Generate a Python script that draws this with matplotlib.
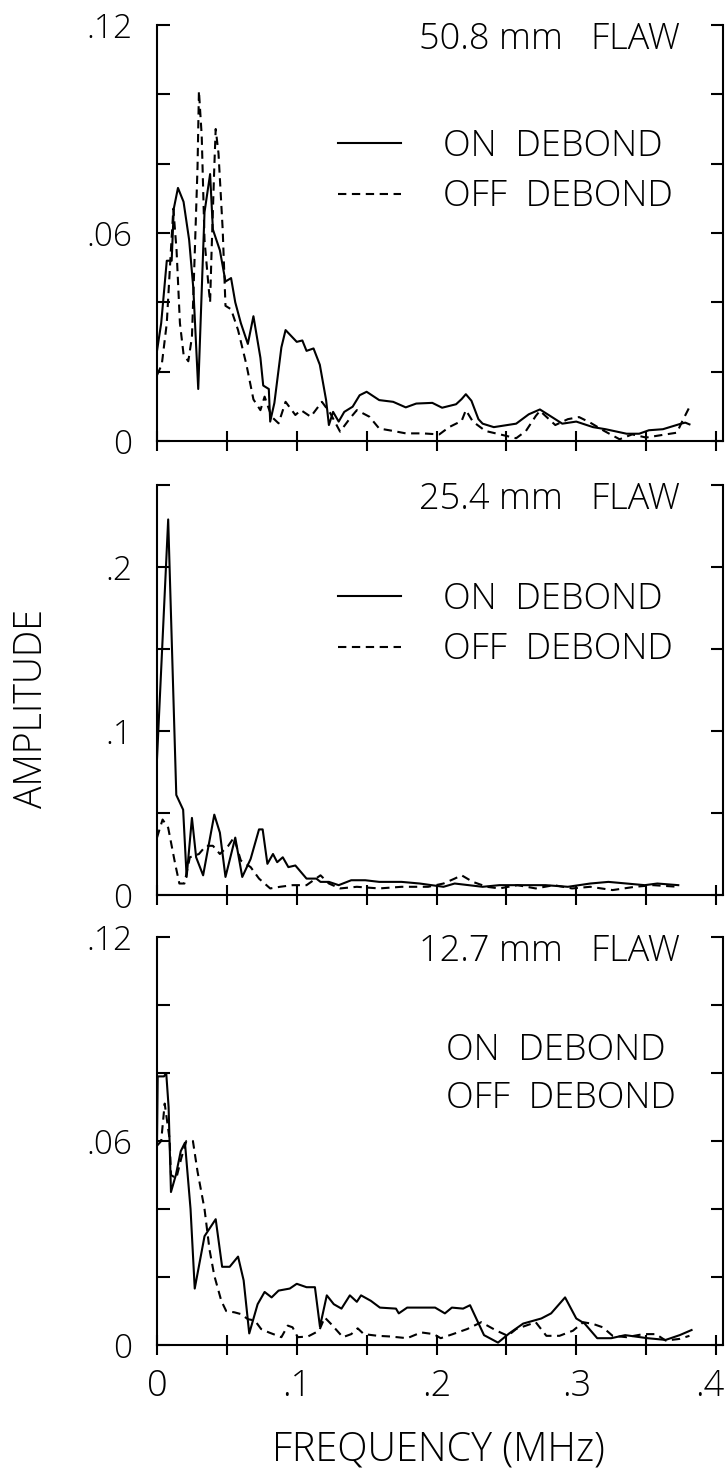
import matplotlib
matplotlib.use("Agg")
import matplotlib.pyplot as plt
import matplotlib.transforms as mtransforms
from matplotlib.ticker import MultipleLocator, FixedLocator
from matplotlib.lines import Line2D

plt.rcParams['font.family'] = ['Open Sans', 'DejaVu Sans']
plt.rcParams['lines.scale_dashes'] = False

# ---- data (frequency in MHz, amplitude) ----
# 50.8 mm flaw
f_on_50 = [0, 0.003, 0.007, 0.0105, 0.012, 0.015, 0.019, 0.023, 0.026, 0.0295,
           0.034, 0.038, 0.040, 0.045, 0.049, 0.053, 0.056, 0.060, 0.065, 0.069,
           0.074, 0.076, 0.080, 0.081, 0.084, 0.089, 0.092, 0.100, 0.104, 0.107,
           0.112, 0.1165, 0.121, 0.123, 0.126, 0.128, 0.130, 0.134, 0.140, 0.145,
           0.150, 0.159, 0.169, 0.178, 0.1855, 0.197, 0.204, 0.214, 0.218, 0.221,
           0.225, 0.230, 0.233, 0.241, 0.257, 0.266, 0.274, 0.283, 0.290, 0.300,
           0.312, 0.321, 0.336, 0.345, 0.352, 0.362, 0.375, 0.378, 0.381]
a_on_50 = [0.026, 0.034, 0.052, 0.052, 0.067, 0.073, 0.069, 0.058, 0.044, 0.015,
           0.066, 0.077, 0.061, 0.055, 0.046, 0.047, 0.040, 0.034, 0.028, 0.036,
           0.024, 0.016, 0.015, 0.0056, 0.011, 0.027, 0.032, 0.0286, 0.029, 0.026,
           0.0267, 0.022, 0.0118, 0.0046, 0.0084, 0.007, 0.0056, 0.0084, 0.0099, 0.0132,
           0.0142, 0.0118, 0.0113, 0.0097, 0.0108, 0.0110, 0.0096, 0.0106, 0.0121, 0.0135,
           0.0116, 0.0063, 0.0050, 0.0040, 0.0050, 0.0077, 0.0091, 0.0068, 0.0050, 0.0056,
           0.0040, 0.0034, 0.0021, 0.0021, 0.0031, 0.0034, 0.0050, 0.0053, 0.0048]
f_off_50 = [0, 0.0034, 0.007, 0.0098, 0.0117, 0.014, 0.0164, 0.019, 0.0224, 0.025,
            0.027, 0.029, 0.030, 0.032, 0.034, 0.037, 0.038, 0.039, 0.041, 0.042,
            0.044, 0.047, 0.049, 0.053, 0.058, 0.064, 0.069, 0.074, 0.077, 0.082,
            0.087, 0.092, 0.099, 0.103, 0.110, 0.118, 0.124, 0.131, 0.138, 0.143,
            0.152, 0.159, 0.169, 0.178, 0.190, 0.202, 0.209, 0.218, 0.221, 0.226,
            0.235, 0.257, 0.264, 0.271, 0.274, 0.285, 0.294, 0.302, 0.310, 0.320,
            0.331, 0.340, 0.350, 0.364, 0.372, 0.376, 0.381]
a_off_50 = [0.019, 0.022, 0.034, 0.054, 0.067, 0.055, 0.034, 0.025, 0.023, 0.030,
            0.054, 0.079, 0.101, 0.088, 0.058, 0.044, 0.040, 0.054, 0.079, 0.090,
            0.083, 0.061, 0.039, 0.038, 0.032, 0.022, 0.012, 0.0089, 0.0128, 0.0070,
            0.0051, 0.0113, 0.0075, 0.0089, 0.0070, 0.0113, 0.0080, 0.0027, 0.0065, 0.0089,
            0.0070, 0.0036, 0.0029, 0.0022, 0.0022, 0.0019, 0.0040, 0.0058, 0.0089, 0.0056,
            0.0029, 0.0008, 0.0029, 0.0072, 0.0087, 0.0046, 0.0063, 0.0069, 0.0053, 0.0029,
            0.0005, 0.0019, 0.0010, 0.0019, 0.0024, 0.0058, 0.0098]

# 25.4 mm flaw
f_on_25 = [0, 0.008, 0.0138, 0.0187, 0.0212, 0.025, 0.028, 0.033, 0.041, 0.045,
           0.049, 0.056, 0.061, 0.067, 0.073, 0.0756, 0.079, 0.083, 0.086, 0.090,
           0.094, 0.099, 0.107, 0.114, 0.117, 0.123, 0.130, 0.139, 0.149, 0.159,
           0.175, 0.188, 0.205, 0.213, 0.223, 0.233, 0.245, 0.262, 0.278, 0.294,
           0.310, 0.323, 0.336, 0.349, 0.358, 0.373]
a_on_25 = [0.083, 0.229, 0.061, 0.052, 0.011, 0.047, 0.023, 0.012, 0.049, 0.038,
           0.011, 0.035, 0.011, 0.022, 0.040, 0.040, 0.019, 0.025, 0.020, 0.023,
           0.017, 0.018, 0.010, 0.010, 0.008, 0.008, 0.006, 0.009, 0.009, 0.008,
           0.008, 0.007, 0.005, 0.007, 0.006, 0.005, 0.006, 0.006, 0.006, 0.005,
           0.007, 0.008, 0.007, 0.006, 0.007, 0.006]
f_off_25 = [0, 0.004, 0.008, 0.013, 0.016, 0.0196, 0.0235, 0.030, 0.035, 0.040,
            0.045, 0.051, 0.055, 0.060, 0.067, 0.073, 0.081, 0.088, 0.097, 0.107,
            0.117, 0.123, 0.131, 0.143, 0.159, 0.175, 0.194, 0.205, 0.213, 0.218,
            0.226, 0.236, 0.245, 0.258, 0.271, 0.284, 0.297, 0.310, 0.326, 0.342,
            0.355, 0.373]
a_off_25 = [0.035, 0.046, 0.041, 0.019, 0.007, 0.007, 0.023, 0.025, 0.030, 0.030,
            0.025, 0.030, 0.035, 0.021, 0.017, 0.010, 0.004, 0.005, 0.006, 0.006,
            0.012, 0.007, 0.004, 0.005, 0.004, 0.005, 0.005, 0.007, 0.010, 0.012,
            0.008, 0.005, 0.004, 0.006, 0.004, 0.006, 0.004, 0.005, 0.003, 0.005,
            0.006, 0.005]

# 12.7 mm flaw
f_on_12 = [0, 0.0005, 0.005, 0.0066, 0.0083, 0.010, 0.0135, 0.017, 0.020, 0.024,
           0.027, 0.034, 0.042, 0.0466, 0.052, 0.058, 0.062, 0.066, 0.072, 0.077,
           0.082, 0.087, 0.095, 0.100, 0.107, 0.113, 0.1166, 0.1215, 0.1265, 0.132,
           0.138, 0.143, 0.146, 0.153, 0.1595, 0.171, 0.173, 0.179, 0.199, 0.206,
           0.211, 0.219, 0.224, 0.229, 0.234, 0.244, 0.252, 0.262, 0.275, 0.282,
           0.292, 0.300, 0.306, 0.315, 0.325, 0.335, 0.351, 0.364, 0.374, 0.3825]
a_on_12 = [0.0595, 0.079, 0.079, 0.080, 0.070, 0.045, 0.050, 0.057, 0.0595, 0.040,
           0.0166, 0.032, 0.037, 0.023, 0.023, 0.026, 0.019, 0.0034, 0.012, 0.0156,
           0.014, 0.016, 0.0166, 0.018, 0.017, 0.017, 0.0054, 0.0146, 0.012, 0.0107,
           0.0146, 0.0127, 0.0146, 0.013, 0.011, 0.0107, 0.0093, 0.011, 0.011, 0.0093,
           0.011, 0.0107, 0.0117, 0.0073, 0.0029, 0.0007, 0.0034, 0.0063, 0.0078, 0.0093,
           0.014, 0.0078, 0.0063, 0.002, 0.002, 0.0029, 0.002, 0.0015, 0.0029, 0.0044]
f_off_12 = [0, 0.003, 0.0055, 0.009, 0.010, 0.0138, 0.0174, 0.021, 0.0257, 0.029,
            0.034, 0.0376, 0.041, 0.046, 0.0495, 0.0555, 0.060, 0.065, 0.070, 0.0745,
            0.080, 0.089, 0.0936, 0.097, 0.1007, 0.108, 0.116, 0.120, 0.1245, 0.133,
            0.139, 0.1436, 0.148, 0.158, 0.167, 0.179, 0.189, 0.198, 0.203, 0.2117,
            0.222, 0.232, 0.243, 0.251, 0.257, 0.264, 0.271, 0.2786, 0.288, 0.2976,
            0.305, 0.312, 0.319, 0.326, 0.336, 0.348, 0.357, 0.364, 0.374, 0.381]
a_off_12 = [0.0586, 0.060, 0.071, 0.0606, 0.050, 0.049, 0.055, 0.060, 0.060, 0.051,
            0.040, 0.028, 0.0204, 0.013, 0.010, 0.0096, 0.0091, 0.0076, 0.0072, 0.0047,
            0.0037, 0.0023, 0.0057, 0.0052, 0.0023, 0.0025, 0.0042, 0.0081, 0.0062, 0.0023,
            0.0032, 0.0049, 0.0032, 0.0027, 0.0025, 0.002, 0.0037, 0.0032, 0.002, 0.0032,
            0.0047, 0.0067, 0.0042, 0.0027, 0.0047, 0.0057, 0.0067, 0.0027, 0.0027, 0.0042,
            0.0067, 0.0062, 0.0052, 0.0027, 0.0023, 0.0032, 0.0032, 0.0013, 0.0018, 0.0027]

titles = ["50.8 mm   FLAW", "25.4 mm   FLAW", "12.7 mm   FLAW"]
y_max = [0.12, 0.25, 0.12]
y_step = [0.02, 0.05, 0.02]
y_labeled = [[0, 0.06, 0.12], [0, 0.1, 0.2], [0, 0.06, 0.12]]
y_ticklabels = [["0", ".06", ".12"], ["0", ".1", ".2"], ["0", ".06", ".12"]]
x_ticks = [0, 0.1, 0.2, 0.3, 0.4]
x_ticklabels = ["0", ".1", ".2", ".3", ".4"]
legend_labels = ["ON  DEBOND", "OFF  DEBOND"]

series = [(f_on_50, a_on_50, f_off_50, a_off_50),
          (f_on_25, a_on_25, f_off_25, a_off_25),
          (f_on_12, a_on_12, f_off_12, a_off_12)]

W, H = 727, 1480
fig = plt.figure(figsize=(W / 100, H / 100), dpi=100)

# panel boxes in pixels: (top, bottom), legend anchor height per panel
boxes = [(25, 441), (485, 895), (937, 1345)]
legend_y = [0.648, 0.66, None]
left, right = 157, 723
LW = 1.5
DASH = (6, 4)

for i, (top, bot) in enumerate(boxes):
    ax = fig.add_axes([left / W, 1 - bot / H, (right - left) / W, (bot - top) / H])
    f_on, a_on, f_off, a_off = series[i]
    ax.plot(f_on, a_on, color='black', lw=LW)
    ax.plot(f_off, a_off, color='black', lw=LW, ls=(0, DASH))
    ax.set_xlim(0, 0.405)
    ax.set_ylim(0, y_max[i])

    for s in ['left', 'right', 'bottom']:
        ax.spines[s].set_linewidth(1.5)
    ax.spines['top'].set_visible(False)

    ax.yaxis.set_major_locator(FixedLocator(y_labeled[i]))
    ax.set_yticklabels(y_ticklabels[i])
    ax.yaxis.set_minor_locator(MultipleLocator(y_step[i]))
    ax.tick_params(axis='y', which='both', direction='in', left=True, right=True,
                   length=9, width=1.5, pad=18, labelsize=24)

    ax.xaxis.set_major_locator(FixedLocator(x_ticks))
    ax.xaxis.set_minor_locator(MultipleLocator(0.05))
    ax.tick_params(axis='x', which='both', direction='inout', length=15, width=1.5,
                   pad=9, labelsize=26)
    if i == 2:
        ax.set_xticklabels(x_ticklabels)
        # keep the last label inside the picture
        last = ax.get_xticklabels()[-1]
        last.set_transform(last.get_transform() +
                           mtransforms.ScaledTranslation(-6 / 100, 0, fig.dpi_scale_trans))
    else:
        ax.set_xticklabels([])

    for lab in ax.get_xticklabels() + ax.get_yticklabels():
        lab.set_fontweight('light')

    ax.text(0.924, 0.964, titles[i], transform=ax.transAxes, ha='right', va='center',
            fontsize=26, fontweight='light')

    if legend_y[i] is not None:
        handles = [Line2D([], [], color='black', lw=LW),
                   Line2D([], [], color='black', lw=LW, ls=(0, DASH))]
        ax.legend(handles, legend_labels, loc='center left',
                  bbox_to_anchor=(0.262, legend_y[i]), frameon=False,
                  handlelength=1.75, handletextpad=1.15, labelspacing=0.38,
                  prop={'size': 26, 'weight': 'light'})
    else:
        ax.text(0.511, 0.723, legend_labels[0], transform=ax.transAxes, ha='left',
                va='center', fontsize=26, fontweight='light')
        ax.text(0.511, 0.605, legend_labels[1], transform=ax.transAxes, ha='left',
                va='center', fontsize=26, fontweight='light')

fig.text(32 / W, 1 - 709 / H, "AMPLITUDE", rotation=90, ha='center', va='center',
         fontsize=27, fontweight='light')
fig.text(438 / W, 1 - 1450 / H, "FREQUENCY (MHz)", ha='center', va='center',
         fontsize=28.5, fontweight='light')

fig.savefig("out.png", dpi=100)
